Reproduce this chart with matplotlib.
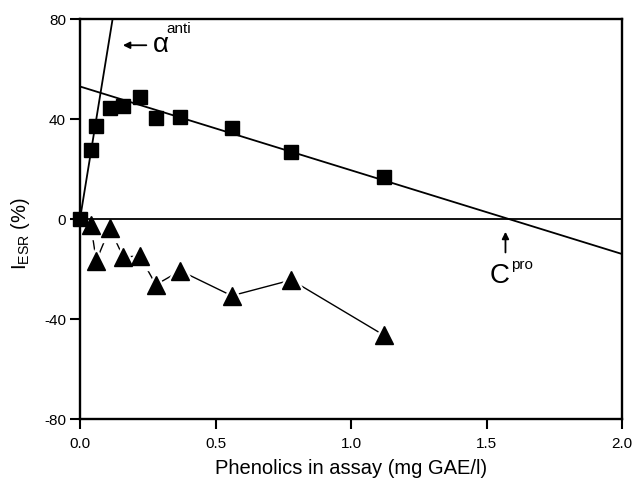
import matplotlib
matplotlib.use("Agg")
import matplotlib.pyplot as plt
import numpy as np

plt.rcParams['font.family'] = ['Liberation Sans', 'DejaVu Sans']
plt.rcParams['mathtext.fontset'] = 'custom'
plt.rcParams['mathtext.rm'] = 'Liberation Sans'
plt.rcParams['mathtext.it'] = 'Liberation Sans'
plt.rcParams['mathtext.sf'] = 'Liberation Sans'

# Data
sq_x = [0.0, 0.04, 0.06, 0.11, 0.16, 0.22, 0.28, 0.37, 0.56, 0.78, 1.12]
sq_y = [0.0, 27.7, 37.3, 44.3, 45.1, 48.9, 40.4, 40.9, 36.3, 26.9, 16.8]
tri_x = [0.04, 0.06, 0.11, 0.16, 0.22, 0.28, 0.37, 0.56, 0.78, 1.12]
tri_y = [-2.4, -16.7, -3.7, -15.3, -14.7, -26.3, -20.7, -30.7, -24.4, -46.4]

anti_slope = 665.0          # alpha^anti line through origin
pro_intercept = 53.0        # descending regression line
pro_slope = -33.5

xticks = [0.0, 0.5, 1.0, 1.5, 2.0]
yticks = [-80, -40, 0, 40, 80]

fig = plt.figure(figsize=(6.35, 4.81), dpi=100)
ax = fig.add_axes([80/635, 1-420/481, 542/635, 400/481])

ax.set_xlim(0, 2.0)
ax.set_ylim(-80, 80)

# zero line
ax.axhline(0, color='black', lw=1.3, zorder=2)

# regression lines
xl = np.array([0.0, 2.0])
ax.plot(xl, anti_slope * xl, color='black', lw=1.3, zorder=2)
ax.plot(xl, pro_intercept + pro_slope * xl, color='black', lw=1.3, zorder=2)

# triangle series with gaps near markers
ax.plot(tri_x, tri_y, color='black', lw=1.0, zorder=1)
ax.plot(tri_x, tri_y, ls='none', marker='^', ms=20, color='white', zorder=1.5)
ax.plot(tri_x, tri_y, ls='none', marker='^', ms=13, color='black', zorder=3)

# squares
ax.plot(sq_x, sq_y, ls='none', marker='s', ms=10, color='black', zorder=4, clip_on=False)

ax.set_xticks(xticks)
ax.set_xticklabels(['0.0', '0.5', '1.0', '1.5', '2.0'])
ax.set_yticks(yticks)
ax.set_yticklabels([str(v) for v in yticks])
ax.tick_params(direction='out', length=7, width=1.5, labelsize=11)
ax.tick_params(axis='x', pad=5)
ax.tick_params(axis='y', pad=3)
for s in ax.spines.values():
    s.set_linewidth(1.7)

ax.set_xlabel('Phenolics in assay (mg GAE/l)', fontsize=14.5)
ax.xaxis.set_label_coords(0.5, -(459 - 420) / 400, transform=ax.transAxes)
ax.xaxis.label.set_va('top')
ax.set_ylabel(r'$\mathregular{I_{ESR}}$ (%)', fontsize=14.5)
ax.yaxis.set_label_coords((20 - 80) / 542, (420 - 234) / 400)
ax.yaxis.label.set_va('center')

# annotations
ax.annotate('', xy=(0.148, 69.5), xytext=(0.255, 69.5),
            arrowprops=dict(arrowstyle='-|>', color='black', lw=1.3, mutation_scale=10))
ax.text(0.265, 70.0, r'$\mathregular{\alpha}$', fontsize=20, va='center', ha='left')
ax.text(0.32, 76.5, 'anti', fontsize=11, va='center', ha='left')

ax.annotate('', xy=(1.57, -4.0), xytext=(1.57, -14.5),
            arrowprops=dict(arrowstyle='-|>', color='black', lw=1.3, mutation_scale=10))
ax.text(1.51, -22.5, 'C', fontsize=20, va='center', ha='left')
ax.text(1.59, -18.0, 'pro', fontsize=11, va='center', ha='left')

fig.savefig('out.png', dpi=100)
